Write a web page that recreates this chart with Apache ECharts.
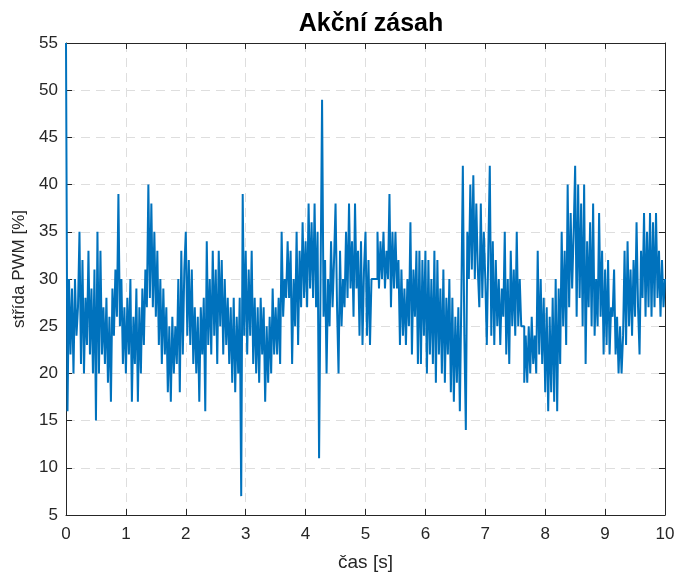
<!DOCTYPE html>
<html>
<head>
<meta charset="utf-8">
<script src="https://cdn.jsdelivr.net/npm/echarts@6/dist/echarts.min.js"></script>
<style>
  html, body { margin: 0; padding: 0; background: #fff; }
  #chart { width: 678px; height: 577px; }
</style>
</head>
<body>
<div id="chart"></div>
<script>
// vzorkovaci perioda [s]
var timeStep = 0.025;

// strida PWM [%], po sekundach (40 vzorku na sekundu)
var pwm0 = [55,16,30,22,29,20,30,24,27,35,21,32,20,28,23,33,22,29,20,31,15,35,20,33,22,27,21,28,19,26,17,29,24,31,26,39,25,30,21,27];
var pwm1 = [20,28,22,30,17,26,21,29,17,27,20,29,23,31,27,40,28,38,27,35,26,33,23,30,21,29,22,27,18,25,17,26,20,25,21,30,18,33,22,31];
var pwm2 = [35,24,32,23,31,21,27,20,26,17,27,22,28,16,34,23,30,22,33,24,31,21,33,25,32,22,30,23,28,21,27,19,28,18,26,20,28,7,39,24];
var pwm3 = [33,22,31,24,33,21,28,20,27,19,28,22,27,17,25,19,26,20,29,22,27,22,28,21,35,26,30,28,34,28,33,21,30,25,35,23,33,27,36,28];
var pwm4 = [34,27,38,29,36,28,38,27,35,11,30,49,26,32,20,30,25,34,27,32,38,27,20,33,25,30,27,35,28,38,29,34,26,38,29,33,24,34,23,31];
var pwm5 = [35,24,32,23,30,30,30,30,35,29,34,30,35,29,33,30,39,27,35,29,35,29,32,23,31,24,29,23,30,25,36,22,31,26,33,21,33,21,32,24];
var pwm6 = [33,20,32,22,30,21,33,19,32,22,29,20,31,19,28,22,30,18,28,17,26,19,27,16,28,42,24,14,35,30,40,31,41,30,38,31,27,38,28,35];
var pwm7 = [30,23,33,42,24,34,23,32,25,30,23,29,26,35,22,30,21,33,25,31,24,35,25,30,25,25,19,24,19,25,20,26,21,24,20,33,22,30,21,28];
var pwm8 = [18,27,16,26,18,28,17,30,16,29,21,35,25,33,23,40,27,37,29,35,42,26,40,28,38,25,40,21,34,27,36,25,38,24,30,25,37,26,33,22];
var pwm9 = [31,23,32,22,27,26,31,22,26,20,25,20,24,33,23,34,25,31,24,32,26,36,27,22,33,28,37,26,35,27,37,26,36,27,37,28,33,26,32,27,30];

var pwm = [].concat(pwm0, pwm1, pwm2, pwm3, pwm4, pwm5, pwm6, pwm7, pwm8, pwm9);
var lineData = pwm.map(function (v, i) { return [+(i * timeStep).toFixed(3), v]; });

var font = 'Liberation Sans, Arial, Helvetica, sans-serif';
var axisCol = '#262626';

var myChart = echarts.init(document.getElementById('chart'));
var option = {
    animation: false,
    backgroundColor: '#fff',
    title: {
        text: 'Akční zásah',
        left: 366, top: 7, textAlign: 'center',
        textStyle: { fontFamily: font, fontSize: 25, fontWeight: 'bold', color: '#000' }
    },
    grid: { left: 66, right: 13, top: 43, bottom: 62, show: false },
    xAxis: [{
        type: 'value', min: 0, max: 10, interval: 1,
        name: 'čas [s]', nameLocation: 'middle', nameGap: 38,
        nameTextStyle: { fontFamily: font, fontSize: 19, color: axisCol },
        axisLine: { show: true, onZero: false, lineStyle: { color: axisCol, width: 1 } },
        axisTick: { show: true, inside: true, length: 6, lineStyle: { color: axisCol } },
        axisLabel: { fontFamily: font, fontSize: 17, color: axisCol, margin: 11 },
        splitLine: { show: true, lineStyle: { color: '#dedede', type: [9, 6], width: 1 } }
    }, {
        type: 'value', min: 0, max: 10, interval: 1, position: 'top',
        axisLine: { show: true, onZero: false, lineStyle: { color: axisCol, width: 1 } },
        axisTick: { show: true, inside: true, length: 6, lineStyle: { color: axisCol } },
        axisLabel: { show: false }, splitLine: { show: false }
    }],
    yAxis: [{
        type: 'value', min: 5, max: 55, interval: 5,
        name: 'střída PWM [%]', nameLocation: 'middle', nameGap: 38, nameRotate: 90,
        nameMoveOverlap: false,
        nameTextStyle: { fontFamily: font, fontSize: 17, color: axisCol, padding: [0, 0, 0, 20] },
        axisLine: { show: true, onZero: false, lineStyle: { color: axisCol, width: 1 } },
        axisTick: { show: true, inside: true, length: 6, lineStyle: { color: axisCol } },
        axisLabel: { fontFamily: font, fontSize: 17, color: axisCol, margin: 8 },
        splitLine: { show: true, lineStyle: { color: '#dedede', type: [9, 6], width: 1 } }
    }, {
        type: 'value', min: 5, max: 55, interval: 5, position: 'right',
        axisLine: { show: true, onZero: false, lineStyle: { color: axisCol, width: 1 } },
        axisTick: { show: true, inside: true, length: 6, lineStyle: { color: axisCol } },
        axisLabel: { show: false }, splitLine: { show: false }
    }],
    series: [{
        type: 'line',
        data: lineData,
        step: 'end',
        showSymbol: false,
        symbol: 'none',
        lineStyle: { color: '#0072BD', width: 2 },
        z: 3
    }]
};
myChart.setOption(option);
</script>
</body>
</html>
